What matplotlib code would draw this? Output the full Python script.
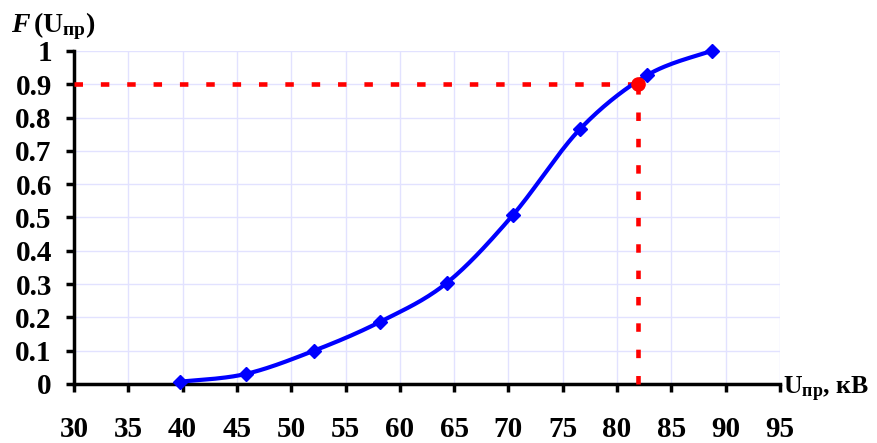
import numpy as np
import matplotlib
matplotlib.use('Agg')
import matplotlib.pyplot as plt

plt.rcParams['font.family'] = ['Liberation Serif', 'DejaVu Serif']
plt.rcParams['font.weight'] = 'bold'
plt.rcParams['mathtext.fontset'] = 'custom'
plt.rcParams['mathtext.rm'] = 'Liberation Serif:bold'
plt.rcParams['mathtext.it'] = 'Liberation Serif:bold:italic'
plt.rcParams['mathtext.bf'] = 'Liberation Serif:bold'

# data
u_kv = [39.8, 45.8, 52.1, 58.2, 64.3, 70.4, 76.6, 82.8, 88.7]
f_val = [0.007, 0.03, 0.10, 0.187, 0.303, 0.507, 0.766, 0.928, 1.0]
u_mark = 81.9   # red point
f_mark = 0.9
x_ticks = [30, 35, 40, 45, 50, 55, 60, 65, 70, 75, 80, 85, 90, 95]
y_ticks = [0, 0.1, 0.2, 0.3, 0.4, 0.5, 0.6, 0.7, 0.8, 0.9, 1.0]
y_labels = ['0', '0.1', '0.2', '0.3', '0.4', '0.5', '0.6', '0.7', '0.8', '0.9', '1']


def smooth(x, y, n=30):
    # Excel-like smoothed line (bezier through points)
    sx, sy = 65.0, 1.0  # scale so both axes weigh about the same
    p = np.column_stack([np.array(x) / sx * 2, np.array(y) / sy])
    p = np.vstack([p[0], p, p[-1]])
    out = []
    t = np.linspace(0, 1, n)[:, None]
    for i in range(1, len(p) - 2):
        p0, p1, p2, p3 = p[i - 1], p[i], p[i + 1], p[i + 2]
        c1 = p1 + (p2 - p0) / 6
        c2 = p2 - (p3 - p1) / 6
        seg = ((1 - t) ** 3) * p1 + 3 * ((1 - t) ** 2) * t * c1 + 3 * (1 - t) * t ** 2 * c2 + t ** 3 * p2
        out.append(seg)
    out = np.vstack(out)
    return out[:, 0] * sx / 2, out[:, 1] * sy


fig = plt.figure(figsize=(8.77, 4.43), dpi=100)
ax = fig.add_axes([0.0844, 0.1332, 0.805, 0.7517])

ax.set_xlim(30, 95)
ax.set_ylim(0, 1)
ax.set_xticks(x_ticks)
ax.set_yticks(y_ticks)
ax.set_yticklabels(y_labels)
ax.grid(True, color='#e2e2ff', linewidth=1.0)
ax.set_axisbelow(True)

for s in ['top', 'right']:
    ax.spines[s].set_visible(False)
for s in ['left', 'bottom']:
    ax.spines[s].set_linewidth(2.5)
    ax.spines[s].set_capstyle('projecting')
ax.tick_params(axis='both', direction='out', length=6, width=2.5, labelsize=21)
ax.tick_params(axis='x', pad=17)
ax.tick_params(axis='y', pad=10)

# dashed guide lines to the red point
dl1, = ax.plot([30, u_mark], [f_mark, f_mark], color='#ff0000', lw=3.3, clip_on=False, zorder=3)
dl2, = ax.plot([u_mark, u_mark], [0, f_mark], color='#ff0000', lw=3.3, clip_on=False, zorder=3)
for d in (dl1, dl2):
    d.set_dashes([1.85, 3.9])
    d.set_dash_capstyle('butt')

cx, cy = smooth(u_kv, f_val)
ax.plot(cx, cy, color='#0000ff', lw=3.0, clip_on=False, zorder=4)
ax.plot(u_kv, f_val, linestyle='none', marker='D', color='#0000ff', markersize=7.5, clip_on=False, zorder=5)
ax.plot([u_mark], [f_mark], linestyle='none', marker='o', color='#ff0000', markersize=9.5, clip_on=False, zorder=6)

fig.text(0.012, 0.94, r'$\mathit{F}\,(\mathrm{U_{пр}})$', fontsize=20, ha='left', va='center')
fig.text(0.893, 0.122, r'$\mathrm{U_{пр}}$, кВ', fontsize=18.5, ha='left', va='center')

plt.savefig('out.png', dpi=100)
